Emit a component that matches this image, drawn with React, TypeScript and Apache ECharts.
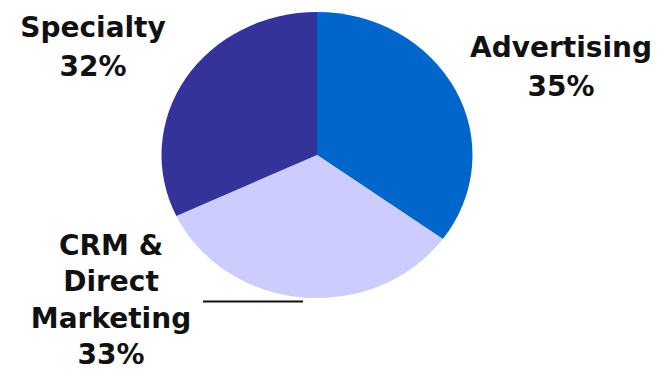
import React, { useEffect, useRef } from "react";
import * as echarts from "echarts";

const categories = ["Advertising", "CRM &\nDirect\nMarketing", "Specialty"];
const values = [35, 33, 32];
const colors = ["#0066CC", "#CCCCFF", "#333399"];

// layout (not data)
const CX = 317;
const CY = 155;
const RX = 155.5;
const RY = 143;
const labelLayout = [
  { x: 561, y: 28, lh: 39 },
  { x: 111, y: 227, lh: 36.5 },
  { x: 93, y: 8, lh: 39 },
];

export default function App() {
  const ref = useRef<HTMLDivElement>(null);
  useEffect(() => {
    if (!ref.current) return;
    const chart = echarts.init(ref.current, null, { renderer: "svg" });
    const total = values.reduce((a, b) => a + b, 0);
    const starts: number[] = [];
    let acc = 0;
    values.forEach((v) => {
      starts.push(acc);
      acc += v;
    });
    chart.setOption({
      animation: false,
      backgroundColor: "#ffffff",
      series: [
        {
          type: "custom",
          coordinateSystem: "none",
          data: values.map((v, i) => [v, i]),
          renderItem: (params: any, api: any) => {
            const i = params.dataIndex;
            const v = api.value(0);
            const a0 = -Math.PI / 2 + (starts[i] / total) * Math.PI * 2;
            const a1 = a0 + (v / total) * Math.PI * 2;
            const lay = labelLayout[i];
            const pct = Math.round((v / total) * 100) + "%";
            const children: any[] = [
              {
                type: "sector",
                x: CX,
                y: CY,
                scaleY: RY / RX,
                shape: { cx: 0, cy: 0, r0: 0, r: RX, startAngle: a0, endAngle: a1, clockwise: true },
                style: { fill: colors[i], stroke: "none" },
              },
              {
                type: "text",
                x: lay.x,
                y: lay.y,
                style: {
                  text: categories[i] + "\n" + pct,
                  align: "center",
                  verticalAlign: "top",
                  font: 'bold 28px "DejaVu Sans"',
                  lineHeight: lay.lh,
                  fill: "#111111",
                },
              },
            ];
            if (i === 1) {
              children.push({
                type: "line",
                shape: { x1: 203, y1: 301.5, x2: 303, y2: 301.5 },
                style: { stroke: "#111111", lineWidth: 2 },
              });
            }
            return { type: "group", children };
          },
        },
      ],
    });
    return () => chart.dispose();
  }, []);
  return <div ref={ref} style={{ width: 668, height: 376, position: "absolute", left: 0, top: 0 }} />;
}
